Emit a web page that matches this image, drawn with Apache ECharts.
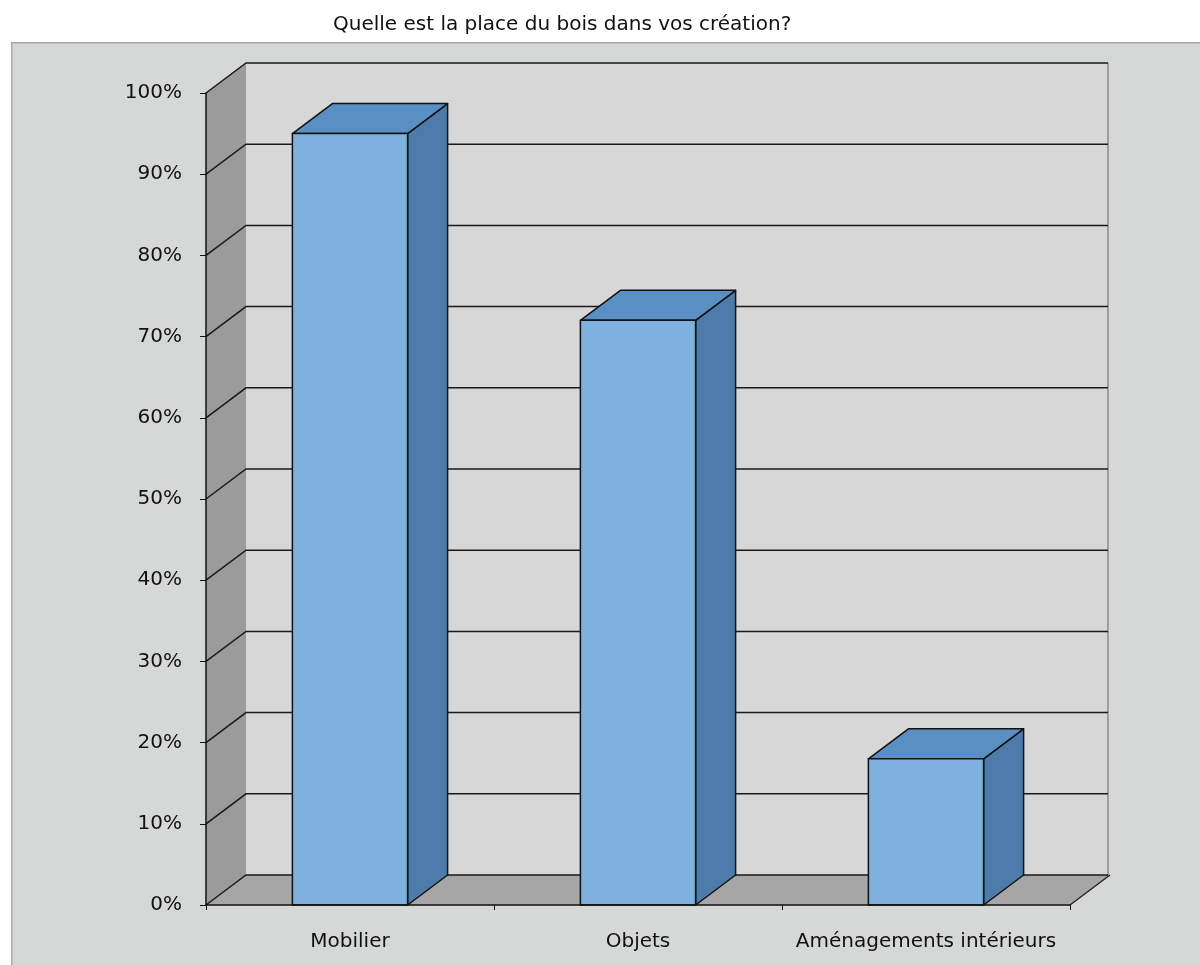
<!DOCTYPE html>
<html>
<head>
<meta charset="utf-8">
<script src="https://cdn.jsdelivr.net/npm/echarts@6/dist/echarts.min.js"></script>
<style>
  html, body { margin: 0; padding: 0; background: #ffffff; }
  #chart { width: 1200px; height: 965px; }
</style>
</head>
<body>
<div id="chart"></div>
<script>
// ---- data ----
const titleText = "Quelle est la place du bois dans vos création?";
const categories = ["Mobilier", "Objets", "Aménagements intérieurs"];
const values = [0.95, 0.72, 0.18];
const yTicks = [0, 0.1, 0.2, 0.3, 0.4, 0.5, 0.6, 0.7, 0.8, 0.9, 1.0];

// ---- style constants ----
const DX = 40, DY = -30;
const FONT = "DejaVu Sans, Liberation Sans, Arial, sans-serif";

const chart = echarts.init(document.getElementById('chart'));

function wallsRender(params, api) {
  const cs = params.coordSys;
  const x0 = cs.x, x1 = cs.x + cs.width;
  const yTop = api.coord([0, 1])[1];
  const yBot = api.coord([0, 0])[1];
  const children = [];
  children.push({ type: 'rect', shape: { x: x0 + DX, y: yTop + DY, width: x1 - x0, height: yBot - yTop },
    style: { fill: '#d7d7d7', stroke: null } });
  children.push({ type: 'polygon', shape: { points: [[x0, yTop], [x0 + DX, yTop + DY], [x0 + DX, yBot + DY], [x0, yBot]] },
    style: { fill: '#9a9b9a', stroke: null } });
  children.push({ type: 'polygon', shape: { points: [[x0, yBot], [x0 + DX, yBot + DY], [x1 + DX, yBot + DY], [x1, yBot]] },
    style: { fill: '#a6a6a6', stroke: null } });
  children.push({ type: 'line', shape: { x1: x1 + DX - 2, y1: yTop + DY, x2: x1 + DX - 2, y2: yBot + DY },
    style: { stroke: '#8a8a8a', lineWidth: 1.5 } });
  children.push({ type: 'line', shape: { x1: x1, y1: yBot, x2: x1 + DX, y2: yBot + DY },
    style: { stroke: '#222', lineWidth: 1.4 } });
  yTicks.forEach(function (t) {
    const y = api.coord([0, t])[1];
    children.push({ type: 'polyline', shape: { points: [[x0, y], [x0 + DX, y + DY], [x1 + DX - 2, y + DY]] },
      style: { stroke: '#1a1a1a', lineWidth: 1.5, fill: null } });
  });
  return { type: 'group', children: children };
}

function barRender(params, api) {
  const idx = api.value(0), val = api.value(1);
  const p = api.coord([idx, val]);
  const p0 = api.coord([idx, 0]);
  const cw = api.size([1, 0])[0];
  const bw = cw * 0.4;
  const x = p[0] - bw / 2, yT = p[1], yB = p0[1];
  const st = { stroke: '#111', lineWidth: 1.5, lineJoin: 'round' };
  return {
    type: 'group',
    children: [
      { type: 'polygon', shape: { points: [[x + bw, yT], [x + bw + DX, yT + DY], [x + bw + DX, yB + DY], [x + bw, yB]] },
        style: Object.assign({ fill: '#4d7cac' }, st) },
      { type: 'polygon', shape: { points: [[x, yT], [x + DX, yT + DY], [x + bw + DX, yT + DY], [x + bw, yT]] },
        style: Object.assign({ fill: '#5a8fc3' }, st) },
      { type: 'rect', shape: { x: x, y: yT, width: bw, height: yB - yT },
        style: Object.assign({ fill: '#7eb1e0' }, st) }
    ]
  };
}

const option = {
  backgroundColor: '#ffffff',
  animation: false,
  title: {
    text: titleText, left: 328, top: 10,
    textStyle: { fontFamily: FONT, fontSize: 20, fontWeight: 'normal', color: '#111' }
  },
  graphic: [{
    type: 'rect', z: -10, left: 11, top: 42,
    shape: { width: 1200, height: 930 },
    style: { fill: '#d6d7d7', stroke: '#a9a9a9', lineWidth: 1.5 }
  }],
  grid: { left: 206, right: 130, top: 93, bottom: 60, containLabel: false },
  xAxis: {
    type: 'category', data: categories, z: 5,
    axisLine: { lineStyle: { color: '#111', width: 1.5 } },
    axisTick: { show: true, length: 5, lineStyle: { color: '#111' } },
    axisLabel: { fontFamily: FONT, fontSize: 20, color: '#111', margin: 27, interval: 0 },
    splitLine: { show: false }
  },
  yAxis: {
    type: 'value', min: 0, max: 1, interval: 0.1, z: 5,
    axisLine: { show: true, lineStyle: { color: '#111', width: 1.5 } },
    axisTick: { show: true, length: 6, lineStyle: { color: '#111' } },
    axisLabel: { fontFamily: FONT, fontSize: 20, color: '#111', margin: 24,
      formatter: function (v) { return Math.round(v * 100) + '%'; } },
    splitLine: { show: false }
  },
  series: [
    { type: 'custom', z: 1, renderItem: wallsRender, data: [[0, 0]], silent: true },
    { type: 'custom', z: 3, renderItem: barRender,
      data: values.map(function (v, i) { return [i, v]; }) }
  ]
};
chart.setOption(option);
</script>
</body>
</html>
